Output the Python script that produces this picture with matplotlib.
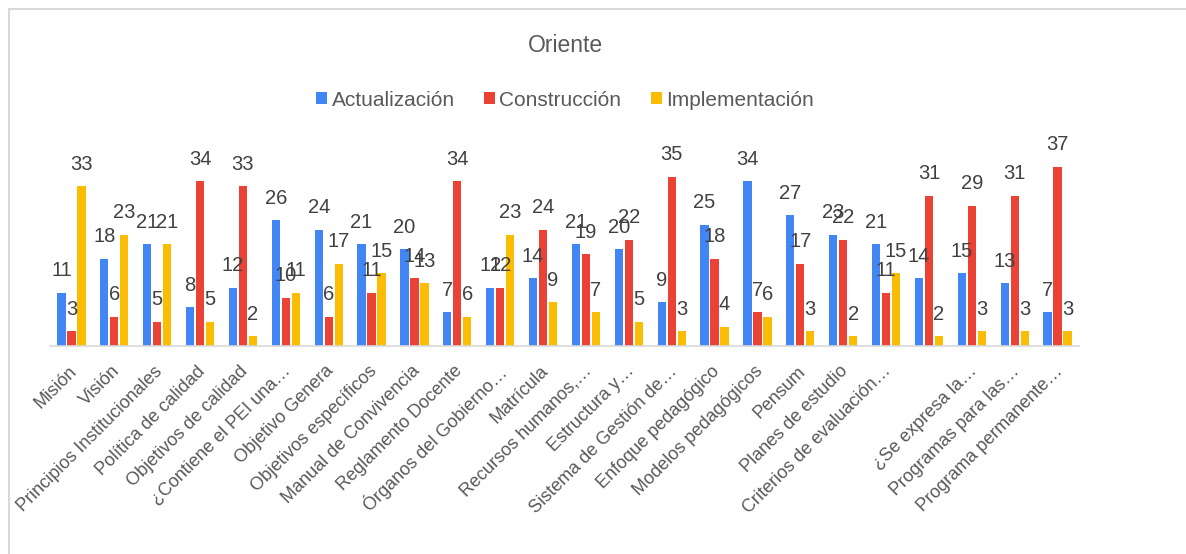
import numpy as np
import matplotlib.pyplot as plt
from matplotlib.lines import Line2D

plt.rcParams['font.family'] = ['Liberation Sans', 'DejaVu Sans']

# data
categories = ['Misión', 'Visión', 'Principios Institucionales', 'Política de calidad',
              'Objetivos de calidad', '¿Contiene el PEI una…', 'Objetivo Genera',
              'Objetivos específicos', 'Manual de Convivencia', 'Reglamento Docente',
              'Órganos del Gobierno…', 'Matrícula', 'Recursos humanos,…', 'Estructura y…',
              'Sistema de Gestión de…', 'Enfoque pedagógico', 'Modelos pedagógicos',
              'Pensum', 'Planes de estudio', 'Criterios de evaluación…', '',
              '¿Se expresa la…', 'Programas para las…', 'Programa permanente…']
actualizacion = [11, 18, 21, 8, 12, 26, 24, 21, 20, 7, 12, 14, 21, 20, 9, 25, 34, 27, 23, 21, 14, 15, 13, 7]
construccion = [3, 6, 5, 34, 33, 10, 6, 11, 14, 34, 12, 24, 19, 22, 35, 18, 7, 17, 22, 11, 31, 29, 31, 37]
implementacion = [33, 23, 21, 5, 2, 11, 17, 15, 13, 6, 23, 9, 7, 5, 3, 4, 6, 3, 2, 15, 2, 3, 3, 3]

series = ['Actualización', 'Construcción', 'Implementación']
colors = ['#4285F4', '#EA4335', '#FBBC04']

W, H = 1186, 554
fig = plt.figure(figsize=(W / 100, H / 100), dpi=100)
ax = fig.add_axes([50 / W, (H - 346) / H, 1029 / W, 193.6 / H])

x = np.arange(len(categories))
width = 0.19
step = 0.233
for i, (vals, c) in enumerate(zip([actualizacion, construccion, implementacion], colors)):
    bars = ax.bar(x + (i - 1) * step, vals, width, color=c, label=series[i])
    for b, v in zip(bars, vals):
        ax.annotate(str(v), (b.get_x() + b.get_width() / 2, v), xytext=(0, 9),
                    textcoords='offset points', ha='center', va='bottom',
                    fontsize=14.5, color='#404040')

ax.set_xlim(-0.5, len(categories) - 0.5)
ax.set_ylim(0, 40)
ax.set_yticks([])
for s in ['top', 'right', 'left']:
    ax.spines[s].set_visible(False)
ax.spines['bottom'].set_color('#d9d9d9')
ax.spines['bottom'].set_linewidth(1.2)
ax.set_xticks(x - 0.08)
ax.set_xticklabels(categories, rotation=45, ha='right', rotation_mode='anchor',
                   fontsize=13, color='#595959')
ax.tick_params(axis='x', length=0, pad=12)

fig.text(565 / W, 1 - 45 / H, 'Oriente', ha='center', va='center', fontsize=16.5, color='#595959')
fig.legend(loc='center', bbox_to_anchor=(565 / W, 1 - 100 / H), ncol=3, frameon=False,
           fontsize=15, handlelength=0.55, handleheight=0.55, handletextpad=0.2,
           columnspacing=1.4, labelcolor='#595959')

# chart border
fig.add_artist(Line2D([9 / W, 1], [1 - 9 / H, 1 - 9 / H], color='#d9d9d9', lw=1.5))
fig.add_artist(Line2D([9 / W, 9 / W], [0, 1 - 9 / H], color='#d9d9d9', lw=1.5))

fig.savefig('out.png', dpi=100)
